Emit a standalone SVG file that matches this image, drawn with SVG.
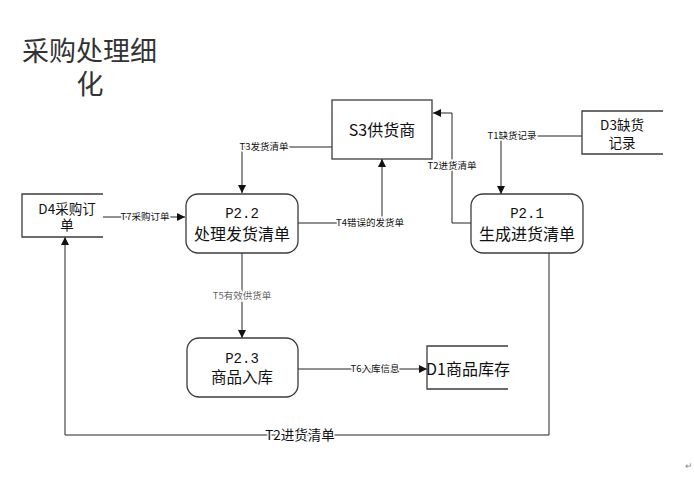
<svg xmlns="http://www.w3.org/2000/svg" width="694" height="479" viewBox="0 0 694 479">
<style>
.box{fill:#fff;stroke:#3c3c3c;stroke-width:1.3}
.open{fill:none;stroke:#3c3c3c;stroke-width:1.3}
.ln{fill:none;stroke:#222;stroke-width:1}
.cjk{font-family:"Noto Sans CJK SC","Liberation Sans",sans-serif;fill:#111}
.mono{font-family:"Liberation Mono","Noto Sans CJK SC",monospace;fill:#111}
.lbl{font-family:"Noto Sans CJK SC","Liberation Sans",sans-serif;font-size:9.5px;fill:#111;stroke:#fff;stroke-width:3;paint-order:stroke;text-anchor:middle}
.mid{text-anchor:middle}
</style>
<defs>
<marker id="arr" viewBox="0 0 10 10" refX="10" refY="5" markerUnits="userSpaceOnUse" markerWidth="10" markerHeight="8" orient="auto">
<path d="M0,0 L10,5 L0,10 z" fill="#111"/>
</marker>
</defs>
<rect width="694" height="479" fill="#fff"/>
<g id="title">
<text class="cjk" x="22" y="61" font-size="27" fill="#333" style="fill:#333">采购处理细</text>
<text class="cjk" x="90" y="94" font-size="27" text-anchor="middle" style="fill:#333">化</text>
</g>
<g id="connectors">
<path class="ln" d="M332,147 H242 V193" marker-end="url(#arr)"/>
<path class="ln" d="M471,223 H452 V113 H433" marker-end="url(#arr)"/>
<path class="ln" d="M582,136 H501 V194" marker-end="url(#arr)"/>
<path class="ln" d="M103,217 H185" marker-end="url(#arr)"/>
<path class="ln" d="M298,223 H382 V159" marker-end="url(#arr)"/>
<path class="ln" d="M242,253 V338" marker-end="url(#arr)"/>
<path class="ln" d="M298,369 H427" marker-end="url(#arr)"/>
<path class="ln" d="M549,253 V435 H65 V237" marker-end="url(#arr)"/>
<text class="lbl" x="264" y="150">T3发货清单</text>
<text class="lbl" x="452" y="169">T2进货清单</text>
<text class="lbl" x="512" y="139">T1缺货记录</text>
<text class="lbl" x="145" y="220">T7采购订单</text>
<text class="lbl" x="370" y="226">T4错误的发货单</text>
<text class="lbl" x="242" y="299" style="fill:#666">T5有效供货单</text>
<text class="lbl" x="375" y="372">T6入库信息</text>
<text class="lbl" x="300" y="440" style="font-size:13.5px">T2进货清单</text>
</g>
<g id="S3">
<rect class="box" x="332" y="100" width="100" height="59"/>
<text class="cjk mid" x="382" y="136" font-size="16">S3供货商</text>
</g>
<g id="D3">
<path class="open" d="M663,111 H582 V154 H663"/>
<text class="cjk mid" x="622" y="130" font-size="13.5">D3缺货</text>
<text class="cjk mid" x="622" y="148" font-size="13.5">记录</text>
</g>
<g id="D4">
<path class="open" d="M103,194 H22 V237 H103"/>
<text class="cjk mid" x="67" y="214" font-size="13.5">D4采购订</text>
<text class="cjk mid" x="67" y="230" font-size="13.5">单</text>
</g>
<g id="P2.2">
<rect class="box" x="186" y="194" width="112" height="59" rx="12"/>
<text class="mono mid" x="242" y="218" font-size="14">P2.2</text>
<text class="cjk mid" x="242" y="240" font-size="16">处理发货清单</text>
</g>
<g id="P2.1">
<rect class="box" x="471" y="194" width="112" height="59" rx="12"/>
<text class="mono mid" x="527" y="218" font-size="14">P2.1</text>
<text class="cjk mid" x="527" y="240" font-size="16">生成进货清单</text>
</g>
<g id="P2.3">
<rect class="box" x="187" y="338" width="111" height="59" rx="12"/>
<text class="mono mid" x="242" y="363" font-size="14">P2.3</text>
<text class="cjk mid" x="242" y="383" font-size="15.5">商品入库</text>
</g>
<g id="D1">
<path class="open" d="M508,346 H427 V389 H508"/>
<text class="cjk mid" x="468" y="375" font-size="16">D1商品库存</text>
</g>
<text x="689" y="469" font-family="Noto Sans CJK SC, sans-serif" font-size="9" fill="#888" text-anchor="middle">↵</text>
</svg>
